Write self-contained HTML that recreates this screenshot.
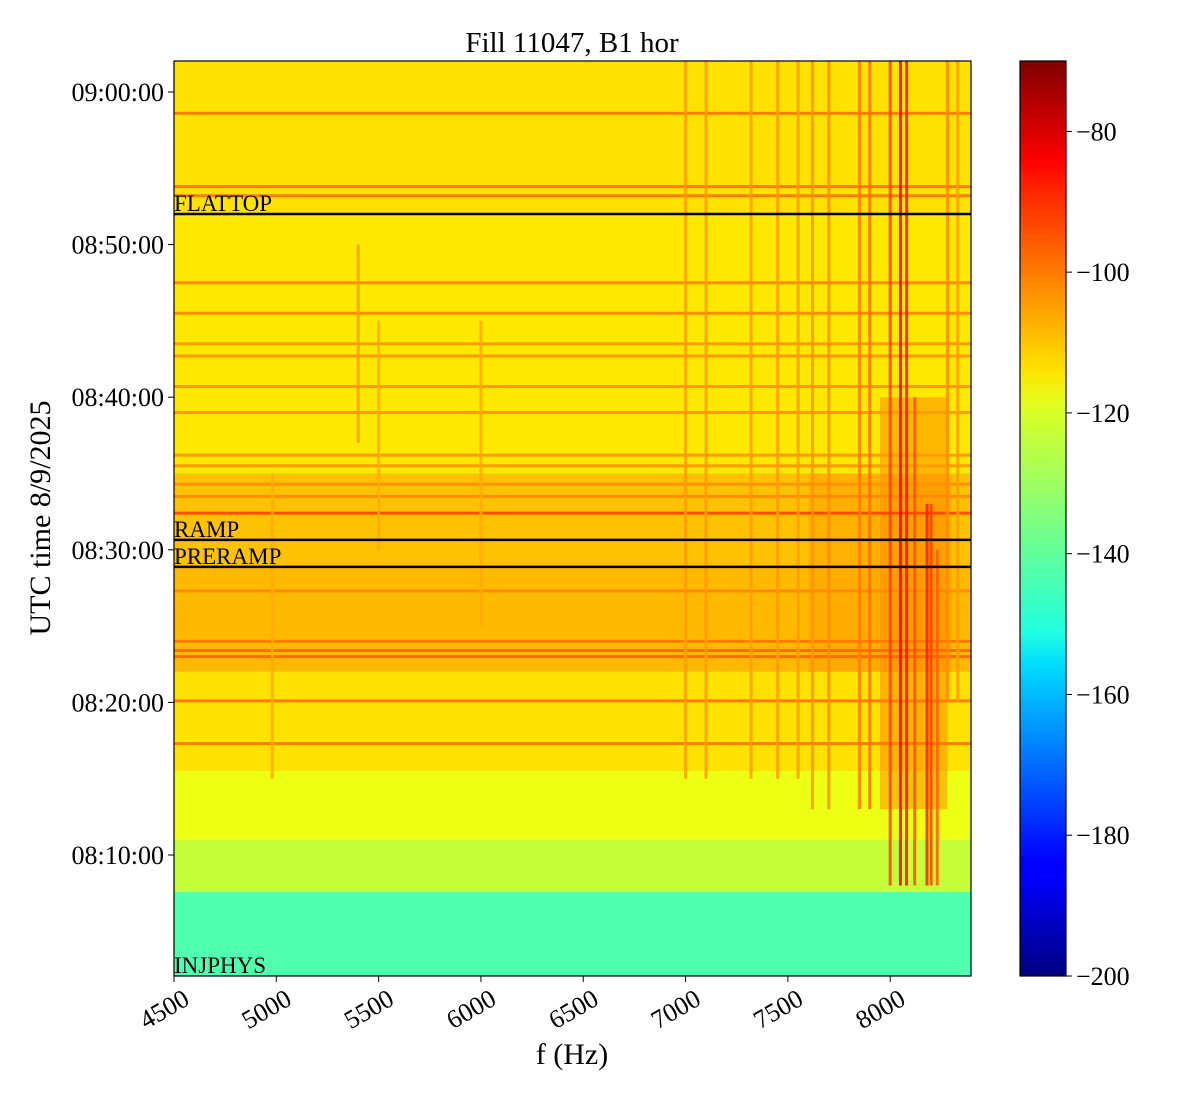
<!DOCTYPE html>
<html><head><meta charset="utf-8">
<style>
body{margin:0;background:#fff;width:1200px;height:1100px;overflow:hidden;font-family:"Liberation Serif",serif;}
svg text{font-family:"Liberation Serif",serif;}
</style></head>
<body>
<svg id="chart" width="1200" height="1100" xmlns="http://www.w3.org/2000/svg">
<text x="572" y="52" font-size="29" text-anchor="middle">Fill 11047, B1 hor</text>
<g id="heat"></g>
<g id="events"></g>
<rect x="174" y="61" width="797" height="915" fill="none" stroke="#000" stroke-width="1.2"/>
<g id="xaxis"></g>
<g id="yaxis"></g>
<text x="572" y="1064" font-size="30" text-anchor="middle">f (Hz)</text>
<text transform="translate(50,518) rotate(-90)" font-size="30" text-anchor="middle">UTC time 8/9/2025</text>
<defs><linearGradient id="jet" x1="0" y1="1" x2="0" y2="0">
<stop offset="0" stop-color="#00007f"/><stop offset="0.11" stop-color="#0000ff"/><stop offset="0.125" stop-color="#0000ff"/><stop offset="0.34" stop-color="#00dcff"/><stop offset="0.375" stop-color="#1fffe0"/><stop offset="0.5" stop-color="#7fff7f"/><stop offset="0.625" stop-color="#e0ff1f"/><stop offset="0.66" stop-color="#ffe500"/><stop offset="0.875" stop-color="#ff1400"/><stop offset="0.89" stop-color="#ff0000"/><stop offset="1" stop-color="#7f0000"/></linearGradient></defs>
<rect x="1020" y="61" width="46" height="915" fill="url(#jet)" stroke="#000" stroke-width="1.2"/>
<g id="cbaxis"></g>
</svg>
<script>
// data
const segT0=[2.07,7.6,11,15.5,22,28.9,35,52];
const segT1=[7.6,11,15.5,22,28.9,35,52,62.03];
const segLevel=[-141,-126,-121,-115,-110,-111,-116,-115];
const hLineT=[17.3,20.1,23,23.4,24,27.3,32.4,33.5,34.3,35.5,36.2,39,40.7,42.7,43.5,45.5,47.5,53.2,53.8,58.6];
const hLineLevel=[-102,-102,-100,-100,-102,-104,-96,-104,-105,-106,-106,-106,-106,-106,-106,-104,-104,-102,-102,-102];
const vLineF=[8000,8050,8080,8120,8180,8200,8230,7900,7850,7700,7620,7550,7450,7320,7100,7000,8280,8330,5400,5500,6000,4980];
const vLineT0=[8,8,8,8,8,8,8,13,13,13,13,15,15,15,15,15,20,20,37,30,25,15];
const vLineT1=[62,62,62,40,33,33,30,62,62,62,62,62,62,62,62,62,62,62,50,45,45,35];
const vLineLevel=[-94,-84,-88,-96,-90,-94,-98,-100,-102,-104,-105,-106,-106,-106,-106,-106,-104,-106,-106,-108,-108,-108];
const blobF0=[7950,7600],blobF1=[8280,8300],blobT0=[13,22],blobT1=[40,35],blobLevel=[-102,-106];
const eventNames=["FLATTOP","RAMP","PRERAMP","INJPHYS"];
const eventT=[52.0,30.65,28.88,2.07];
const xTicks=[4500,5000,5500,6000,6500,7000,7500,8000];
const yTicks=[10,20,30,40,50,60];
const yTickLabels=["08:10:00","08:20:00","08:30:00","08:40:00","08:50:00","09:00:00"];
const cTicks=[-80,-100,-120,-140,-160,-180,-200];

const X0=174,X1=971,Y0=61,Y1=976,FMIN=4500,FMAX=8395,TMIN=2.07,TMAX=62.03,CMIN=-200,CMAX=-70;
const xs=f=>X0+(f-FMIN)/(FMAX-FMIN)*(X1-X0);
const ys=t=>Y1-(t-TMIN)/(TMAX-TMIN)*(Y1-Y0);
const cs=v=>Y1-(v-CMIN)/(CMAX-CMIN)*(Y1-Y0);
function jet(v){let x=(v-CMIN)/(CMAX-CMIN);x=Math.max(0,Math.min(1,x));
 const c=t=>Math.round(255*Math.max(0,Math.min(1,1.5-Math.abs(4*x-t))));
 return `rgb(${c(3)},${c(2)},${c(1)})`;}
const NS="http://www.w3.org/2000/svg";
function mk(tag,attrs,parent){const e=document.createElementNS(NS,tag);for(const k in attrs)e.setAttribute(k,attrs[k]);parent.appendChild(e);return e;}
const heat=document.getElementById('heat');
segT0.forEach((t0,i)=>{const r=mk('rect',{x:X0,y:ys(segT1[i]),width:X1-X0,height:ys(t0)-ys(segT1[i]),fill:jet(segLevel[i])},heat);

});
blobF0.forEach((f0,i)=>{const r=mk('rect',{x:xs(f0),y:ys(blobT1[i]),width:xs(blobF1[i])-xs(f0),height:ys(blobT0[i])-ys(blobT1[i]),fill:jet(blobLevel[i]),opacity:0.45},heat);

});
hLineT.forEach((t,i)=>{const r=mk('rect',{x:X0,y:ys(t)-1.5,width:X1-X0,height:3,fill:jet(hLineLevel[i])},heat);

});
vLineF.forEach((f,i)=>{const r=mk('rect',{x:xs(f)-1.5,y:ys(vLineT1[i]),width:3,height:ys(vLineT0[i])-ys(vLineT1[i]),fill:jet(vLineLevel[i]),opacity:0.85},heat);

});
const ev=document.getElementById('events');
eventNames.forEach((n,i)=>{
 if(i<3){const l=mk('line',{x1:X0,x2:X1,y1:ys(eventT[i]),y2:ys(eventT[i]),stroke:'#000','stroke-width':2.5},ev);
 
 }
 const t=mk('text',{x:X0,y:ys(eventT[i])-3,'font-size':23},ev);t.textContent=n;
 
 });
const xa=document.getElementById('xaxis');
xTicks.forEach(v=>{const x=xs(v);mk('line',{x1:x,x2:x,y1:Y1,y2:Y1+6,stroke:'#000'},xa);
 const t=mk('text',{x:0,y:0,'font-size':26,'text-anchor':'end',transform:`translate(${x+8},${Y1+12}) rotate(-30) translate(0,18)`},xa);t.textContent=v;
 
 });
const ya=document.getElementById('yaxis');
yTicks.forEach((v,i)=>{const y=ys(v);mk('line',{x1:X0-6,x2:X0,y1:y,y2:y,stroke:'#000'},ya);
 const t=mk('text',{x:X0-10,y:y+9,'font-size':26,'text-anchor':'end'},ya);t.textContent=yTickLabels[i];
 
 });
const ca=document.getElementById('cbaxis');
cTicks.forEach(v=>{const y=cs(v);mk('line',{x1:1066,x2:1072,y1:y,y2:y,stroke:'#000'},ca);
 const t=mk('text',{x:1076,y:y+9,'font-size':26},ca);t.textContent='\u2212'+Math.abs(v);
 
 });
</script>
</body></html>
